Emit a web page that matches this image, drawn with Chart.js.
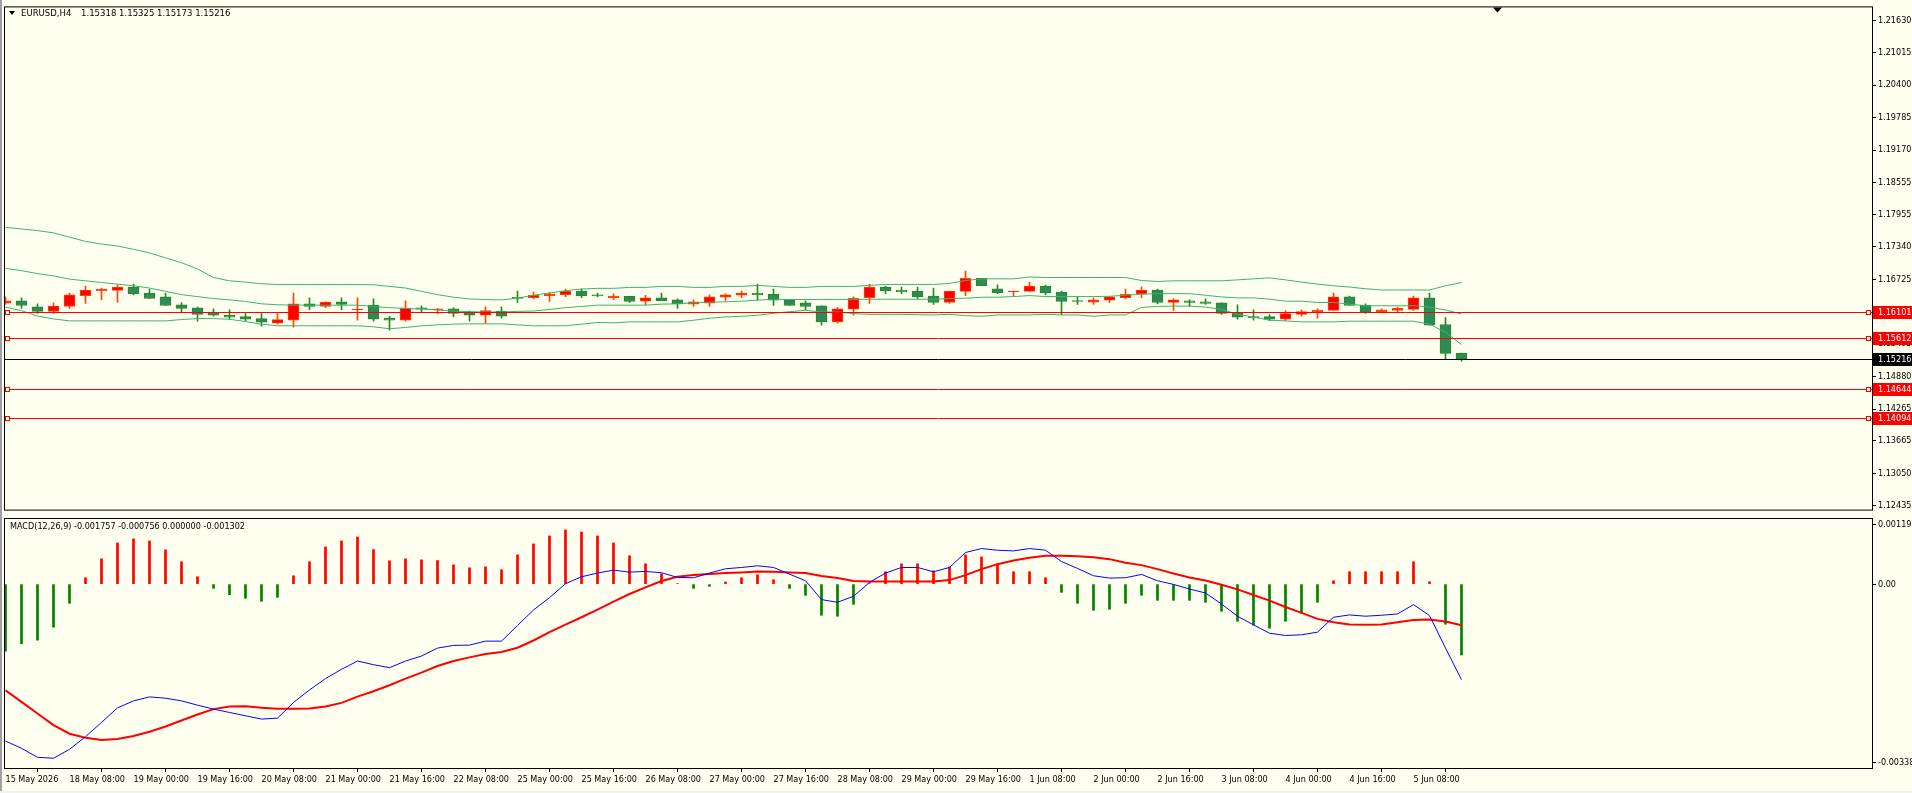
<!DOCTYPE html>
<html><head><meta charset="utf-8">
<script src="https://cdn.jsdelivr.net/npm/chart.js@4.4.1/dist/chart.umd.min.js"></script>
<style>
html,body{margin:0;padding:0;background:#FFFFF0;width:1912px;height:793px;overflow:hidden;position:relative;}
canvas{position:absolute;left:0;}
#c1{top:0;}
#c2{top:517px;}
.lbl{position:absolute;font-family:"DejaVu Sans Condensed","Liberation Sans Narrow","DejaVu Sans",sans-serif;font-size:9px;line-height:11px;color:#000;white-space:pre;}
#tri{position:absolute;left:9px;top:11px;width:0;height:0;border-left:3px solid transparent;border-right:3px solid transparent;border-top:4px solid #000;}
#gl{position:absolute;left:0;top:0;width:2px;height:793px;background:#A0A0A0;}
#gb{position:absolute;left:0;top:791px;width:1912px;height:2px;background:#F0F0F0;}
</style></head>
<body>
<canvas id="c1" width="1912" height="517"></canvas>
<canvas id="c2" width="1912" height="276"></canvas>
<div id="gl"></div><div id="gb"></div>
<div id="tri"></div>
<div class="lbl" style="left:21px;top:7px;font-size:9.5px">EURUSD,H4</div>
<div class="lbl" style="left:81px;top:7px;font-size:9.5px">1.15318 1.15325 1.15173 1.15216</div>
<div class="lbl" style="left:10px;top:521px">MACD(12,26,9) -0.001757 -0.000756 0.000000 -0.001302</div>
<script>
// ---------- DATA ----------
const opens = [1.16271,1.16314,1.16202,1.16115,1.16208,1.16414,1.16507,1.16513,1.16576,1.16463,
1.16389,1.16240,1.16184,1.16103,1.16041,1.16016,1.15978,1.15891,1.15947,1.16258,
1.16208,1.16296,1.16146,1.16233,1.15985,1.15947,1.16184,1.16146,1.16165,1.16103,
1.16041,1.16121,1.16383,1.16376,1.16414,1.16432,1.16501,1.16426,1.16376,1.16401,
1.16308,1.16370,1.16333,1.16252,1.16271,1.16383,1.16420,1.16457,1.16439,1.16333,
1.16277,1.16221,1.15916,1.16159,1.16376,1.16576,1.16520,1.16501,1.16407,1.16283,
1.16495,1.16743,1.16544,1.16488,1.16495,1.16594,1.16482,1.16320,1.16289,1.16327,
1.16376,1.16445,1.16520,1.16283,1.16314,1.16296,1.16277,1.16090,1.16016,1.16016,
1.15966,1.16059,1.16103,1.16134,1.16389,1.16233,1.16109,1.16134,1.16152,1.16370,
1.15866,1.15318];
const highs = [1.16389,1.16370,1.16258,1.16277,1.16463,1.16594,1.16557,1.16619,1.16631,1.16538,
1.16463,1.16283,1.16196,1.16165,1.16146,1.16072,1.16072,1.16072,1.16463,1.16370,
1.16295,1.16370,1.16370,1.16351,1.16022,1.16314,1.16221,1.16170,1.16184,1.16121,
1.16202,1.16202,1.16501,1.16482,1.16470,1.16538,1.16538,1.16463,1.16445,1.16401,
1.16420,1.16463,1.16351,1.16333,1.16426,1.16445,1.16501,1.16631,1.16538,1.16333,
1.16314,1.16221,1.16190,1.16389,1.16631,1.16594,1.16576,1.16576,1.16557,1.16501,
1.16880,1.16743,1.16619,1.16501,1.16669,1.16613,1.16501,1.16389,1.16370,1.16395,
1.16538,1.16576,1.16538,1.16351,1.16333,1.16351,1.16277,1.16240,1.16146,1.16053,
1.16128,1.16146,1.16165,1.16463,1.16407,1.16258,1.16165,1.16196,1.16407,1.16463,
1.15997,1.15325];
const lows = [1.16246,1.16171,1.16078,1.16078,1.16171,1.16264,1.16339,1.16283,1.16426,1.16358,
1.16227,1.16109,1.15929,1.16022,1.15966,1.15935,1.15835,1.15873,1.15817,1.16146,
1.16184,1.16146,1.15947,1.15929,1.15761,1.15929,1.16103,1.16072,1.16016,1.15929,
1.15885,1.15985,1.16283,1.16351,1.16302,1.16395,1.16376,1.16389,1.16339,1.16283,
1.16240,1.16320,1.16171,1.16208,1.16208,1.16320,1.16376,1.16333,1.16227,1.16227,
1.16146,1.15854,1.15891,1.16041,1.16264,1.16451,1.16451,1.16351,1.16246,1.16264,
1.16414,1.16600,1.16451,1.16407,1.16495,1.16432,1.16053,1.16246,1.16246,1.16283,
1.16351,1.16376,1.16258,1.16134,1.16208,1.16246,1.16059,1.15966,1.15947,1.15941,
1.15941,1.16022,1.15985,1.16134,1.16227,1.16078,1.16097,1.16109,1.16134,1.15854,
1.15219,1.15173];
const closes = [1.16314,1.16227,1.16115,1.16215,1.16426,1.16520,1.16538,1.16576,1.16451,1.16358,
1.16227,1.16171,1.16059,1.16041,1.16003,1.15966,1.15910,1.15960,1.16258,1.16208,
1.16289,1.16246,1.16152,1.15966,1.15947,1.16177,1.16159,1.16165,1.16078,1.16041,
1.16128,1.16022,1.16358,1.16420,1.16445,1.16495,1.16414,1.16414,1.16407,1.16302,
1.16370,1.16320,1.16258,1.16296,1.16389,1.16426,1.16463,1.16432,1.16327,1.16227,
1.16208,1.15916,1.16165,1.16364,1.16576,1.16507,1.16488,1.16395,1.16283,1.16501,
1.16743,1.16600,1.16470,1.16501,1.16594,1.16470,1.16302,1.16302,1.16333,1.16389,
1.16439,1.16520,1.16283,1.16333,1.16283,1.16264,1.16078,1.16003,1.15997,1.15966,
1.16072,1.16109,1.16140,1.16389,1.16227,1.16109,1.16146,1.16171,1.16370,1.15854,
1.15320,1.15216];
const bbUpper = [1.17707,1.17676,1.17645,1.17602,1.17521,1.17440,1.17390,1.17353,1.17291,1.17222,
1.17129,1.17036,1.16918,1.16756,1.16694,1.16669,1.16638,1.16625,1.16625,1.16625,
1.16625,1.16625,1.16625,1.16619,1.16588,1.16557,1.16495,1.16432,1.16383,1.16351,
1.16339,1.16333,1.16364,1.16420,1.16463,1.16507,1.16538,1.16551,1.16551,1.16569,
1.16569,1.16588,1.16588,1.16569,1.16569,1.16588,1.16588,1.16607,1.16588,1.16569,
1.16569,1.16588,1.16588,1.16588,1.16607,1.16625,1.16625,1.16625,1.16625,1.16644,
1.16700,1.16731,1.16731,1.16731,1.16768,1.16756,1.16756,1.16756,1.16756,1.16756,
1.16756,1.16700,1.16681,1.16694,1.16694,1.16694,1.16694,1.16712,1.16731,1.16750,
1.16712,1.16669,1.16631,1.16600,1.16576,1.16544,1.16520,1.16520,1.16520,1.16520,
1.16600,1.16662];
const bbMiddle = [1.16930,1.16886,1.16830,1.16787,1.16725,1.16694,1.16662,1.16631,1.16600,1.16557,
1.16495,1.16432,1.16395,1.16358,1.16333,1.16302,1.16258,1.16240,1.16233,1.16233,
1.16233,1.16233,1.16233,1.16208,1.16184,1.16171,1.16159,1.16140,1.16121,1.16109,
1.16103,1.16103,1.16115,1.16121,1.16152,1.16184,1.16208,1.16233,1.16233,1.16233,
1.16233,1.16252,1.16258,1.16277,1.16289,1.16296,1.16308,1.16327,1.16345,1.16339,
1.16339,1.16339,1.16339,1.16339,1.16345,1.16345,1.16345,1.16345,1.16345,1.16358,
1.16364,1.16383,1.16383,1.16395,1.16414,1.16395,1.16395,1.16395,1.16395,1.16401,
1.16420,1.16439,1.16451,1.16451,1.16451,1.16420,1.16389,1.16370,1.16370,1.16345,
1.16308,1.16308,1.16283,1.16283,1.16252,1.16221,1.16221,1.16221,1.16221,1.16196,
1.16140,1.16065];
const bbLower = [1.16196,1.16128,1.16028,1.15972,1.15935,1.15935,1.15935,1.15935,1.15935,1.15935,
1.15935,1.15960,1.15978,1.15978,1.15966,1.15922,1.15873,1.15842,1.15842,1.15842,
1.15842,1.15842,1.15842,1.15823,1.15786,1.15810,1.15842,1.15860,1.15873,1.15879,
1.15879,1.15879,1.15860,1.15842,1.15842,1.15842,1.15873,1.15904,1.15898,1.15916,
1.15916,1.15916,1.15916,1.15947,1.15985,1.16009,1.16022,1.16041,1.16078,1.16109,
1.16134,1.16103,1.16103,1.16072,1.16059,1.16059,1.16059,1.16053,1.16047,1.16059,
1.16034,1.16022,1.16047,1.16047,1.16047,1.16059,1.16047,1.16047,1.16022,1.16047,
1.16047,1.16190,1.16208,1.16215,1.16215,1.16196,1.16152,1.16059,1.16009,1.15947,
1.15935,1.15916,1.15916,1.15916,1.15929,1.15929,1.15929,1.15929,1.15929,1.15873,
1.15717,1.15487];
const macdMain = [-0.002884,-0.003018,-0.003183,-0.003201,-0.003037,-0.002805,-0.002542,-0.002274,-0.002146,-0.002073,
-0.002097,-0.002146,-0.002225,-0.002298,-0.002359,-0.002420,-0.002481,-0.002463,-0.002176,-0.001945,
-0.001737,-0.001566,-0.001414,-0.001481,-0.001536,-0.001414,-0.001322,-0.001176,-0.001127,-0.001121,
-0.001048,-0.001048,-0.000761,-0.000475,-0.000249,0.000007,0.000135,0.000203,0.000257,0.000221,
0.000233,0.000209,0.000123,0.000117,0.000203,0.000282,0.000306,0.000337,0.000306,0.000184,
0.000062,-0.000285,-0.000334,-0.000224,0.000032,0.000203,0.000306,0.000306,0.000227,0.000306,
0.000581,0.000654,0.000623,0.000611,0.000654,0.000623,0.000416,0.000288,0.000154,0.000111,
0.000117,0.000178,0.000062,-0.000005,-0.000090,-0.000163,-0.000365,-0.000590,-0.000749,-0.000902,
-0.000944,-0.000932,-0.000883,-0.000609,-0.000566,-0.000590,-0.000572,-0.000548,-0.000377,-0.000578,
-0.001176,-0.001757];
const macdSignal = [-0.001951,-0.002164,-0.002378,-0.002591,-0.002750,-0.002823,-0.002866,-0.002847,-0.002793,-0.002713,
-0.002616,-0.002506,-0.002396,-0.002298,-0.002250,-0.002244,-0.002274,-0.002292,-0.002292,-0.002286,
-0.002250,-0.002183,-0.002067,-0.001969,-0.001859,-0.001737,-0.001627,-0.001505,-0.001414,-0.001347,
-0.001286,-0.001249,-0.001170,-0.001036,-0.000883,-0.000743,-0.000609,-0.000468,-0.000322,-0.000182,
-0.000060,0.000056,0.000135,0.000166,0.000184,0.000203,0.000215,0.000233,0.000227,0.000215,
0.000203,0.000148,0.000111,0.000056,0.000050,0.000050,0.000050,0.000050,0.000050,0.000074,
0.000166,0.000276,0.000367,0.000434,0.000483,0.000520,0.000520,0.000514,0.000495,0.000459,
0.000392,0.000349,0.000276,0.000196,0.000123,0.000068,-0.000011,-0.000096,-0.000200,-0.000304,
-0.000420,-0.000529,-0.000639,-0.000700,-0.000743,-0.000749,-0.000743,-0.000700,-0.000658,-0.000651,
-0.000688,-0.000756];
const macdHist = [-0.001231,-0.001097,-0.001030,-0.000792,-0.000353,0.000117,0.000465,0.000758,0.000831,0.000794,
0.000630,0.000410,0.000136,-0.000078,-0.000194,-0.000261,-0.000316,-0.000243,0.000154,0.000410,
0.000684,0.000794,0.000867,0.000636,0.000428,0.000465,0.000447,0.000434,0.000355,0.000300,
0.000318,0.000264,0.000538,0.000739,0.000886,0.000996,0.000959,0.000886,0.000758,0.000520,
0.000373,0.000190,0.000010,-0.000078,-0.000040,0.000040,0.000117,0.000172,0.000080,-0.000078,
-0.000206,-0.000572,-0.000591,-0.000371,0.000010,0.000227,0.000373,0.000373,0.000245,0.000318,
0.000538,0.000501,0.000373,0.000227,0.000227,0.000117,-0.000151,-0.000353,-0.000481,-0.000463,
-0.000353,-0.000206,-0.000298,-0.000298,-0.000298,-0.000334,-0.000499,-0.000682,-0.000755,-0.000810,
-0.000682,-0.000536,-0.000334,0.000062,0.000227,0.000227,0.000227,0.000227,0.000410,0.000044,
-0.000737,-0.001302];
const priceTicks = [1.21630,1.21015,1.20400,1.19785,1.19170,1.18555,1.17955,1.17340,1.16725,1.16110,1.15495,1.14880,1.14265,1.13665,1.13050,1.12435];
const levels = [1.16101,1.15612,1.14644,1.14094];
const lastPrice = 1.15216;
const macdTicks = [0.001197,0,-0.00338];
const macdTickLabels = ['0.001197','0.00','-0.00338'];
const timeTickIdx = [0,4,8,12,16,20,24,28,32,36,40,44,48,52,56,60,64,68,72,76,80,84,88];
const timeLabels = ['15 May 2026','18 May 08:00','19 May 00:00','19 May 16:00','20 May 08:00','21 May 00:00','21 May 16:00','22 May 08:00','25 May 00:00','25 May 16:00','26 May 08:00','27 May 00:00','27 May 16:00','28 May 08:00','29 May 00:00','29 May 16:00','1 Jun 08:00','2 Jun 00:00','2 Jun 16:00','3 Jun 08:00','4 Jun 00:00','4 Jun 16:00','5 Jun 08:00'];

// ---------- STYLE / LAYOUT ----------
const FONT = '"DejaVu Sans Condensed","Liberation Sans Narrow","DejaVu Sans",sans-serif';
Chart.defaults.font.family = FONT;
Chart.defaults.font.size = 9;
Chart.defaults.color = '#000';
const BG = '#FFFFF0';
const BULL_FILL = '#FF0000', BULL_LINE = '#FF4500';
const BEAR_FILL = '#2E8B57', BEAR_LINE = '#228B22';
const BAND = '#3CB371';
const X_MIN = -0.03125, X_MAX = 116.65625;
const P_MIN = 1.123604, P_MAX = 1.218725;
const M_MIN = -0.00338, M_MAX = 0.001197;

const idx = opens.map((_, i) => i);
const bull = idx.map(i => closes[i] > opens[i]);

const frame = {
  id: 'frame',
  afterDraw(chart) {
    const {ctx, chartArea: a} = chart;
    ctx.save(); ctx.strokeStyle = '#000'; ctx.lineWidth = 1;
    ctx.strokeRect(a.left - 0.5, a.top - 0.5, a.right - a.left + 1, a.bottom - a.top + 1);
    ctx.restore();
  }
};

const levelPlugin = {
  id: 'levels',
  afterDatasetsDraw(chart) {
    const {ctx, chartArea: a, scales: {y}} = chart;
    ctx.save(); ctx.lineWidth = 1;
    levels.forEach(v => {
      const n = Math.round(y.getPixelForValue(v));
      ctx.strokeStyle = '#FF0000';
      ctx.beginPath(); ctx.moveTo(a.left, n + 0.5); ctx.lineTo(a.right, n + 0.5); ctx.stroke();
      ctx.fillStyle = BG;
      [a.left, a.right - 6].forEach(x0 => {
        ctx.fillRect(x0, n - 2, 5, 5);
        ctx.strokeRect(x0 + 0.5, n - 2 + 0.5, 4, 4);
      });
    });
    const m = Math.round(y.getPixelForValue(lastPrice));
    ctx.strokeStyle = '#000';
    ctx.beginPath(); ctx.moveTo(a.left, m + 0.5); ctx.lineTo(a.right, m + 0.5); ctx.stroke();
    ctx.restore();
  },
  afterDraw(chart) {
    const {ctx, chartArea: a, scales: {y}} = chart;
    ctx.save();
    ctx.font = '9px ' + FONT; ctx.textBaseline = 'middle'; ctx.textAlign = 'left';
    const box = (v, col) => {
      const n = Math.round(y.getPixelForValue(v));
      ctx.fillStyle = col; ctx.fillRect(a.right + 1, n - 6, 40, 13);
      ctx.fillStyle = '#FFFFFF'; ctx.fillText(v.toFixed(5), a.right + 6, n + 1);
    };
    levels.forEach(v => box(v, '#FF0000'));
    box(lastPrice, '#000000');
    ctx.fillStyle = '#000';
    ctx.beginPath(); ctx.moveTo(1493, a.top); ctx.lineTo(1502, a.top); ctx.lineTo(1497.5, a.top + 5); ctx.closePath(); ctx.fill();
    ctx.restore();
  }
};

const macdAxis = {
  id: 'macdAxis',
  afterDraw(chart) {
    const {ctx, chartArea: a, scales: {y}} = chart;
    ctx.save(); ctx.font = '9px ' + FONT; ctx.textBaseline = 'middle'; ctx.fillStyle = '#000'; ctx.strokeStyle = '#000'; ctx.lineWidth = 1;
    macdTicks.forEach((v, k) => {
      let n = Math.round(y.getPixelForValue(v));
      n = Math.max(a.top + 5, Math.min(a.bottom - 6, n));
      ctx.beginPath(); ctx.moveTo(a.right, n + 0.5); ctx.lineTo(a.right + 4, n + 0.5); ctx.stroke();
      ctx.fillText(macdTickLabels[k], a.right + 6, n + 1);
    });
    ctx.restore();
  }
};

const fixW = s => { s.width = 40; };

new Chart(document.getElementById('c1'), {
  type: 'bar',
  data: { datasets: [
    { type: 'line', data: idx.map(i => ({x: i, y: bbUpper[i]})), borderColor: BAND, borderWidth: 1, pointRadius: 0, tension: 0, order: 1 },
    { type: 'line', data: idx.map(i => ({x: i, y: bbMiddle[i]})), borderColor: BAND, borderWidth: 1, pointRadius: 0, tension: 0, order: 1 },
    { type: 'line', data: idx.map(i => ({x: i, y: bbLower[i]})), borderColor: BAND, borderWidth: 1, pointRadius: 0, tension: 0, order: 1 },
    { type: 'bar', data: idx.map(i => ({x: i, y: [lows[i], highs[i]]})), grouped: false,
      backgroundColor: idx.map(i => bull[i] ? BULL_LINE : BEAR_LINE), borderWidth: 0,
      barPercentage: 1, categoryPercentage: 1, maxBarThickness: 1, order: 3 },
    { type: 'bar', data: idx.map(i => ({x: i, y: [opens[i], closes[i]]})), grouped: false,
      backgroundColor: idx.map(i => bull[i] ? BULL_FILL : BEAR_FILL),
      borderColor: idx.map(i => bull[i] ? BULL_LINE : BEAR_LINE), borderWidth: 1, borderSkipped: false,
      barPercentage: 1, categoryPercentage: 1, maxBarThickness: 11, order: 2 }
  ]},
  options: {
    responsive: false, animation: false, devicePixelRatio: 1,
    layout: { padding: {left: 5, top: 5, right: 0, bottom: 2} },
    plugins: { legend: {display: false}, tooltip: {enabled: false} },
    scales: {
      x: { type: 'linear', min: X_MIN, max: X_MAX, offset: false, display: false },
      y: { position: 'right', min: P_MIN, max: P_MAX, afterFit: fixW,
        afterBuildTicks: s => { s.ticks = priceTicks.map(v => ({value: v})); },
        ticks: { callback: v => Number(v).toFixed(5), padding: 2, color: '#000', autoSkip: false },
        grid: { drawOnChartArea: false, drawTicks: true, tickLength: 4, color: '#000' },
        border: { display: true, color: '#000' } }
    }
  },
  plugins: [levelPlugin, frame]
});

new Chart(document.getElementById('c2'), {
  type: 'bar',
  data: { datasets: [
    { type: 'line', data: idx.map(i => ({x: i, y: macdMain[i]})), borderColor: '#0000FF', borderWidth: 1, pointRadius: 0, tension: 0, order: 1 },
    { type: 'line', data: idx.map(i => ({x: i, y: macdSignal[i]})), borderColor: '#FF0000', borderWidth: 2, pointRadius: 0, tension: 0, order: 2 },
    { type: 'bar', data: idx.map(i => ({x: i, y: macdHist[i]})), grouped: false,
      backgroundColor: idx.map(i => macdHist[i] >= 0 ? '#FF0000' : '#008000'), borderWidth: 0,
      barPercentage: 1, categoryPercentage: 1, maxBarThickness: 2, order: 3 }
  ]},
  options: {
    responsive: false, animation: false, devicePixelRatio: 1,
    layout: { padding: {left: 5, top: 2, right: 0, bottom: 0} },
    plugins: { legend: {display: false}, tooltip: {enabled: false} },
    scales: {
      x: { type: 'linear', min: X_MIN, max: X_MAX, offset: false,
        afterFit: s => { s.height = 25; },
        afterBuildTicks: s => { s.ticks = timeTickIdx.map(v => ({value: v})); },
        ticks: { callback: v => timeLabels[timeTickIdx.indexOf(v)], align: 'start', maxRotation: 0, autoSkip: false, padding: 2, color: '#000' },
        grid: { drawOnChartArea: false, drawTicks: true, tickLength: 4, color: '#000' },
        border: { display: true, color: '#000' } },
      y: { position: 'right', min: M_MIN, max: M_MAX, afterFit: fixW,
        ticks: { display: false },
        grid: { drawOnChartArea: false, drawTicks: false },
        border: { display: true, color: '#000' } }
    }
  },
  plugins: [macdAxis, frame]
});
</script>
</body></html>
